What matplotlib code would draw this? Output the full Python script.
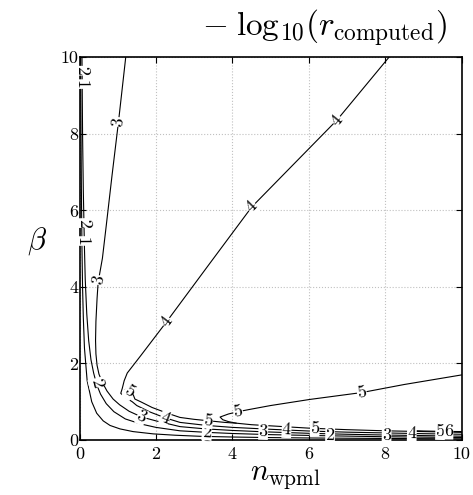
import numpy as np
import matplotlib
matplotlib.use('Agg')
import matplotlib.pyplot as plt

plt.rcParams['font.family'] = 'serif'
plt.rcParams['font.serif'] = ['cmr10']
plt.rcParams['mathtext.fontset'] = 'cm'
plt.rcParams['axes.unicode_minus'] = False
plt.rcParams['axes.formatter.use_mathtext'] = False

# contour lines of -log10(r_computed): (n_wpml, beta)
lev1_n = [0.03, 0.04, 0.05, 0.065, 0.08, 0.1, 0.13, 0.2, 0.32, 0.45, 0.62, 0.8, 1.06, 1.4,
          1.93, 2.5, 3.15, 4.0, 5.0, 6.0, 7.0, 8.0, 9.0, 10.0]
lev1_b = [10.0, 8.0, 6.5, 5.0, 4.0, 3.2, 2.4, 1.55, 1.0, 0.7, 0.5, 0.38, 0.29, 0.22,
          0.16, 0.125, 0.097, 0.078, 0.063, 0.053, 0.046, 0.04, 0.035, 0.031]

lev2_n = [0.065, 0.08, 0.1, 0.13, 0.15, 0.19, 0.24, 0.3, 0.37, 0.45, 0.55, 0.7, 0.9, 1.2,
          1.6, 2.0, 2.63, 3.33, 4.0, 5.0, 6.5, 8.0, 10.0]
lev2_b = [10.0, 8.0, 6.5, 5.0, 4.2, 3.3, 2.6, 2.1, 1.75, 1.45, 1.2, 0.95, 0.74, 0.55,
          0.42, 0.33, 0.24, 0.2, 0.17, 0.14, 0.11, 0.085, 0.065]

lev3_n = [1.21, 1.02, 0.85, 0.7, 0.6, 0.52, 0.49, 0.46, 0.43, 0.42, 0.43, 0.46, 0.51, 0.6,
          0.72, 0.88, 1.05, 1.3, 1.63, 2.0, 2.63, 3.3, 4.0, 4.8, 6.0, 7.0, 8.0, 9.0, 10.0]
lev3_b = [10.0, 8.31, 6.9, 5.6, 4.75, 4.3, 4.15, 3.7, 3.1, 2.6, 2.25, 1.95, 1.72, 1.5,
          1.28, 1.07, 0.92, 0.75, 0.6, 0.5, 0.35, 0.29, 0.25, 0.215, 0.175, 0.15, 0.13, 0.115, 0.1]

lev4_n = [8.1, 6.74, 5.6, 4.51, 3.4, 2.28, 1.6, 1.25, 1.17, 1.12, 1.08, 1.14, 1.25, 1.38,
          1.5, 1.85, 2.24, 2.63, 3.33, 4.0, 5.0, 6.0, 7.0, 8.0, 9.0, 10.0]
lev4_b = [10.0, 8.36, 7.2, 6.09, 4.6, 3.09, 2.2, 1.75, 1.55, 1.35, 1.22, 1.16, 1.08, 1.0,
          0.9, 0.73, 0.58, 0.46, 0.38, 0.33, 0.28, 0.235, 0.205, 0.185, 0.165, 0.15]

lev5a_n = [1.2, 1.3, 1.4, 1.45, 1.6, 1.9, 2.3, 2.63, 3.0, 3.4, 3.8, 4.1, 4.5, 5.0, 6.0,
           7.0, 8.0, 9.0, 10.0]
lev5a_b = [1.32, 1.26, 1.2, 1.07, 1.0, 0.85, 0.7, 0.59, 0.54, 0.5, 0.46, 0.44, 0.4, 0.37,
           0.31, 0.27, 0.24, 0.22, 0.2]

lev5b_n = [10.0, 8.5, 7.39, 6.03, 5.0, 4.46, 4.15, 3.9, 3.68, 3.75, 3.9, 4.1]
lev5b_b = [1.7, 1.45, 1.24, 1.06, 0.9, 0.8, 0.74, 0.68, 0.6, 0.53, 0.48, 0.44]

lev6_n = [8.6, 9.0, 9.5, 10.0]
lev6_b = [0.25, 0.235, 0.225, 0.22]

lines = [(1, lev1_n, lev1_b), (2, lev2_n, lev2_b), (3, lev3_n, lev3_b), (4, lev4_n, lev4_b),
         (5, lev5a_n, lev5a_b), (5, lev5b_n, lev5b_b), (6, lev6_n, lev6_b)]

ticks = [0, 2, 4, 6, 8, 10]

fig = plt.figure(figsize=(4.73, 4.95), dpi=100)
ax = fig.add_axes([79.5 / 473, 55 / 495, 382 / 473, 382.7 / 495])
ax.set_xlim(0, 10)
ax.set_ylim(0, 10)

for lev, xs, ys in lines:
    ax.plot(xs, ys, color='black', lw=0.8, zorder=2)

# where the inline labels sit (near which point of which line)
label_spots = [
    (0, 3.33, 0.09), (0, 0.1, 9.3), (0, 0.1, 5.2),
    (1, 3.33, 0.2), (1, 0.49, 1.5), (1, 0.12, 9.65), (1, 0.14, 5.67), (1, 6.56, 0.11),
    (2, 1.02, 8.31), (2, 0.49, 4.18), (2, 1.63, 0.6), (2, 4.81, 0.22), (2, 8.04, 0.13),
    (3, 6.74, 8.36), (3, 4.51, 6.09), (3, 2.28, 3.09), (3, 2.24, 0.58), (3, 5.42, 0.26),
    (3, 8.7, 0.17),
    (4, 1.3, 1.26), (4, 3.37, 0.5), (4, 6.16, 0.3), (4, 9.44, 0.21),
    (5, 7.39, 1.24), (5, 4.15, 0.74),
    (6, 9.66, 0.225),
]


def put_label(k, hx, hy):
    lev, xs, ys = lines[k]
    pts = ax.transData.transform(np.column_stack([xs, ys]))
    h = ax.transData.transform((hx, hy))
    best = None
    for p0, p1 in zip(pts[:-1], pts[1:]):
        d = p1 - p0
        t = np.clip(np.dot(h - p0, d) / np.dot(d, d), 0, 1)
        q = p0 + t * d
        dist = np.hypot(*(h - q))
        if best is None or dist < best[0]:
            best = (dist, q, d)
    _, q, d = best
    ang = np.degrees(np.arctan2(d[1], d[0]))
    if ang > 90:
        ang -= 180
    if ang < -90:
        ang += 180
    x, y = ax.transData.inverted().transform(q)
    ax.text(x, y, str(lev), rotation=ang, ha='center', va='center', fontsize=13,
            rotation_mode='anchor', zorder=3,
            bbox=dict(fc='white', ec='none', pad=0.2))


for k, hx, hy in label_spots:
    put_label(k, hx, hy)

ax.set_xticks(ticks)
ax.set_yticks(ticks)
ax.grid(True, color='#c0c0c0', linestyle=':', linewidth=0.8)
ax.set_axisbelow(True)
ax.tick_params(direction='in', top=True, right=True, length=4, width=0.8, labelsize=13)
ax.tick_params(axis='x', pad=5)
ax.tick_params(axis='y', pad=1)
for s in ax.spines.values():
    s.set_linewidth(1.2)

ax.set_xlabel(r'$n_{\mathrm{wpml}}$', fontsize=22, va='center')
ax.xaxis.set_label_coords(0.538, -0.097)
ax.set_ylabel(r'$\beta$', fontsize=22, va='center', ha='center', rotation=0)
ax.yaxis.set_label_coords(-0.11, 0.52)

fig.text(325 / 473, 1 - 28.5 / 495, r'$-\;\mathrm{log}_{10}(r_{\mathrm{computed}})$',
         fontsize=24, ha='center', va='center')

fig.savefig('out.png', dpi=100)
